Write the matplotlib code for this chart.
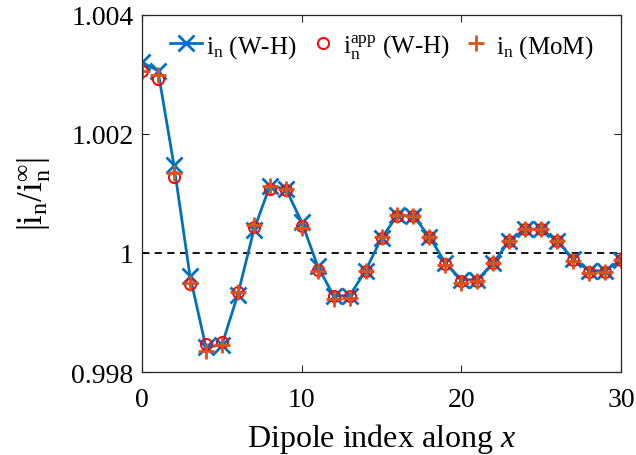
import numpy as np
import matplotlib
matplotlib.use('Agg')
import matplotlib.pyplot as plt

plt.rcParams['font.family'] = ['Liberation Serif', 'DejaVu Serif']
plt.rcParams['mathtext.fontset'] = 'custom'
plt.rcParams['mathtext.rm'] = 'Liberation Serif'
plt.rcParams['mathtext.it'] = 'Liberation Serif:italic'

# dipole index along x
n = np.arange(0, 31)

# |i_n / i_n^inf| from the W-H solution
i_wh = [1.00320, 1.00306, 1.00147, 0.99962, 0.99842, 0.99845, 0.99930, 1.00038,
        1.00112, 1.00108, 1.00052, 0.99978, 0.99928, 0.99928, 0.99970, 1.00025,
        1.00063, 1.00062, 1.00027, 0.99983, 0.99955, 0.99955, 0.99983, 1.00020,
        1.00040, 1.00040, 1.00020, 0.99990, 0.99970, 0.99970, 0.99988]

# approximate W-H solution
i_app = [1.00305, 1.00292, 1.00127, 0.99948, 0.99847, 0.99850, 0.99934, 1.00043,
         1.00107, 1.00105, 1.00045, 0.99972, 0.99927, 0.99927, 0.99970, 1.00025,
         1.00062, 1.00062, 1.00026, 0.99982, 0.99953, 0.99953, 0.99983, 1.00020,
         1.00040, 1.00040, 1.00020, 0.99988, 0.99968, 0.99968, 0.99988]

# method of moments
i_mom = [1.00306, 1.00299, 1.00134, 0.99950, 0.99836, 0.99845, 0.99935, 1.00047,
         1.00112, 1.00108, 1.00042, 0.99970, 0.99922, 0.99924, 0.99970, 1.00026,
         1.00063, 1.00062, 1.00026, 0.99980, 0.99950, 0.99952, 0.99983, 1.00020,
         1.00040, 1.00040, 1.00020, 0.99987, 0.99966, 0.99968, 0.99988]

blue = '#0072BD'
orange = '#D95319'

fig = plt.figure(figsize=(6.36, 4.56), dpi=100)
ax = fig.add_axes([0.2233, 0.182, 0.7531, 0.7836])

ax.axhline(1.0, color='k', linestyle='--', linewidth=1.3, dashes=(4, 3))
ax.plot(n, i_wh, '-x', color=blue, linewidth=2, markersize=11, markeredgewidth=2,
        label=r'$\mathrm{i}_\mathrm{n}$ (W-H)')
ax.plot(n, i_app, 'o', color='red', markerfacecolor='none', markersize=8,
        markeredgewidth=1.4, linestyle='none',
        label=r'$\mathrm{i}_\mathrm{n}^\mathrm{app}$ (W-H)')
ax.plot(n, i_mom, '+', color=orange, markersize=12, markeredgewidth=2,
        linestyle='none', label=r'$\mathrm{i}_\mathrm{n}$ (MoM)')

ax.set_xlim(0, 30)
ax.set_ylim(0.998, 1.004)
ax.set_xticks([0, 10, 20, 30])
ax.set_yticks([0.998, 1.0, 1.002, 1.004])
ax.set_yticklabels(['0.998', '1', '1.002', '1.004'])
ax.tick_params(direction='in', top=True, right=True, labelsize=20, length=5,
               width=0.8, color='#262626')
ax.tick_params(axis='x', pad=11)
ax.tick_params(axis='y', pad=6)
for s in ax.spines.values():
    s.set_color('#262626')
    s.set_linewidth(0.9)

ax.set_xlabel(r'Dipole index along $x$', fontsize=23, labelpad=6)
ax.set_ylabel(r'$|\mathrm{i}_\mathrm{n}/\mathrm{i}_\mathrm{n}^\infty|$', fontsize=25,
              labelpad=13)

ax.legend(loc='upper center', ncol=3, frameon=False, fontsize=18,
          handlelength=1.3, handletextpad=0.15, columnspacing=0.4,
          bbox_to_anchor=(0.5, 1.0), borderaxespad=0.3)

fig.savefig('out.png', dpi=100)
